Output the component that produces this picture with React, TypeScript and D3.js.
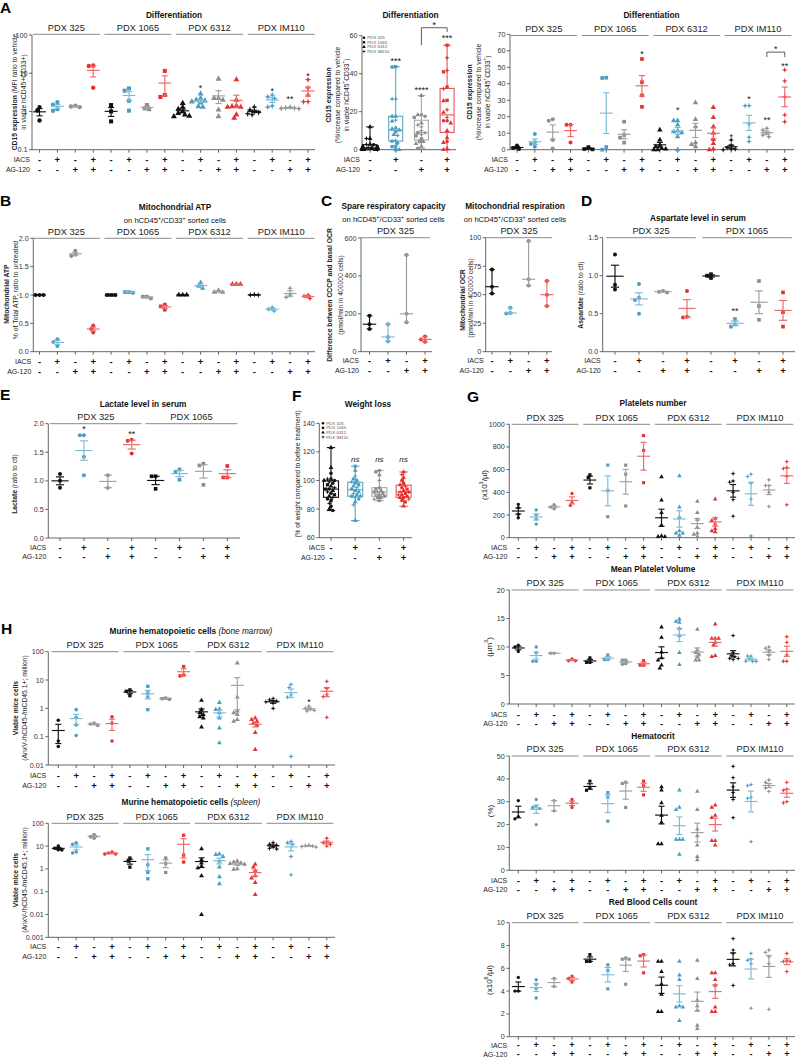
import React from "react";
import * as d3 from "d3";

// ---------------- categories ----------------
const pdxModels = ["PDX 325", "PDX 1065", "PDX 6312", "PDX IM110"];
const iacsRow = ["-", "+", "-", "+"];
const ag120Row = ["-", "-", "+", "+"];
const rowLabels = ["IACS", "AG-120"];

// ---------------- data (16 groups = 4 PDX x 4 treatments) ----------------
const cd15Mfi: number[][] = [
  [1.3, 1.06, 0.58], [1.76, 1.5, 1.15, 1.04], [1.3, 1.35, 1.42], [15.9, 15.5, 4.2],
  [1.47, 1.0, 0.55], [4.0, 3.5, 1.9, 1.05], [1.47, 1.2, 1.15], [11.5, 2.7, 2.4],
  [1.65, 1.3, 1.15, 1.0, 0.9, 0.82, 0.76, 0.74], [2.9, 2.2, 2.0, 1.9, 1.8, 1.7, 1.35, 1.3],
  [7.1, 2.2, 2.2, 2.0, 1.1, 0.74], [6.8, 2.0, 1.4, 1.35, 1.3, 1.3, 0.82, 0.67],
  [1.3, 1.1, 1.0, 0.94, 0.87, 0.82], [2.7, 2.4, 2.2, 1.4, 1.3], [1.3, 1.25, 1.22, 1.2, 1.18], [6.8, 4.1, 2.7, 1.8, 1.8],
];
const cd15Pct: number[][] = [
  [2.6, 1.0, 0.5], [9.5, 4.5, 3.4, 1.8], [18.4, 17.6, 5.9, 0.8], [15.2, 15.2, 4.3],
  [1.6, 0.4, 0.2], [43.7, 43.5, 1.6, 0], [17, 8.9, 7.3, 4.3], [55, 41, 33, 26],
  [12, 5.9, 2.8, 1.8, 0.8, 0.4, 0, 0], [17.6, 17.6, 15, 11.5, 11, 10.3, 7.9, 0],
  [28.5, 18.4, 14, 4.3, 3.2, 1.8], [25.7, 19.6, 14, 10, 6.3, 3.8, 0.4, 0],
  [5.9, 2.8, 1.2, 0.5, 0.4, 0], [26.7, 26.7, 15.6, 7.5, 4.9], [13, 12, 10, 8.9, 7.9], [48.4, 41.7, 32, 21, 17],
];
const mitoAtp: number[][] = [
  [1.0, 1.0, 1.0], [0.22, 0.17, 0.1], [1.78, 1.71, 1.69], [0.46, 0.4, 0.34],
  [1.0, 1.0, 1.0], [1.05, 1.05, 1.04], [0.97, 0.97, 0.94], [0.83, 0.8, 0.74],
  [1.0, 1.0, 1.0], [1.22, 1.16, 1.12], [1.08, 1.05, 1.05], [1.19, 1.19, 1.19],
  [1.01, 1.0, 1.0], [0.78, 0.75, 0.72], [1.12, 1.0, 0.96], [1.0, 0.98, 0.94],
];
const spareCapacity: number[][] = [[190, 145, 120], [145, 78, 55], [510, 200, 155], [80, 65, 52]];
const mitoOcr: number[][] = [[72, 57, 51], [38.5, 34, 33.5], [97, 63.5, 58], [62, 50, 40]];
const aspartate: number[][] = [
  [1.28, 0.88, 0.82], [0.89, 0.71, 0.68, 0.5], [0.78, 0.79, 0.8], [0.8, 0.46, 0.45],
  [1.02, 1.0, 0.97], [0.43, 0.36, 0.33], [0.93, 0.6, 0.42], [0.78, 0.52, 0.33],
];
const lactate: number[][] = [
  [1.12, 1.0, 0.88], [1.8, 1.8, 1.42, 1.1], [1.1, 0.88], [1.72, 1.7, 1.48],
  [1.08, 1.08, 0.86], [1.2, 1.16, 1.02], [1.3, 1.27, 0.93], [1.26, 1.06, 1.06],
];
// [pdx model index, % weight]
const weightVehicle: [number, number][] = [[2, 123], [2, 109], [0, 105], [1, 101], [3, 101], [0, 100], [2, 100], [3, 99], [0, 98], [1, 97], [2, 96], [3, 95], [0, 94], [1, 94], [2, 93], [3, 92], [0, 91], [1, 90], [2, 89], [3, 88], [0, 87], [1, 86], [3, 84], [0, 82], [2, 80], [0, 79]];
const weightIacs: [number, number][] = [[1, 110], [2, 107], [3, 103], [0, 101], [2, 100], [3, 99], [0, 98], [1, 97], [2, 96], [3, 95], [0, 94], [1, 93], [2, 92], [3, 91], [0, 90], [1, 89], [2, 89], [3, 88], [0, 87], [2, 85], [3, 83], [2, 72]];
const weightAg120: [number, number][] = [[0, 107], [1, 106], [2, 104], [3, 100], [0, 95], [1, 94], [2, 93], [3, 92], [0, 92], [1, 91], [2, 90], [3, 90], [0, 89], [1, 88], [2, 88], [3, 87], [2, 86]];
const weightCombo: [number, number][] = [[2, 106], [3, 104], [2, 102], [0, 100], [1, 98], [2, 97], [3, 96], [0, 95], [1, 94], [2, 93], [3, 92], [0, 92], [1, 91], [2, 90], [3, 90], [0, 89], [1, 88], [2, 88], [3, 87], [0, 86], [1, 85], [2, 82]];
const platelets: number[][] = [
  [294, 265, 206, 176], [245, 200, 165, 120], [290, 270, 255], [390, 310, 285],
  [555, 530, 440], [640, 415, 185], [640, 560, 280], [900, 770, 485],
  [535, 330, 220, 110, 15, 10, 10], [545, 270, 180, 60, 40, 40, 20], [320, 220, 160, 90, 40, 30, 10], [340, 170, 150, 120, 80, 60, 50],
  [565, 500, 490, 400, 335, 190], [560, 540, 480, 340, 15], [510, 460, 460, 400, 275], [670, 620, 610, 540, 290],
];
const plateletVolume: number[][] = [
  [10.3, 10.0, 9.2], [10.0, 9.0, 7.5, 7.5], [8.9, 8.9], [7.9, 7.6, 7.6],
  [8.1, 7.3, 7.3], [8.6, 7.8, 7.8], [7.7, 7.7, 7.1, 7.0], [7.6, 6.8, 6.8],
  [13.5, 11.7, 9.1, 8.1, 7.7, 6.8, 6.3], [14.9, 14.5, 14.3, 13.2, 12.0, 9.0, 6.9], [13.1, 9.5, 9.0, 8.7, 8.2, 7.7, 7.7], [14.0, 11.5, 11.5, 11.5, 10.8, 10.3, 8.5, 8.3],
  [12.0, 9.0, 8.5, 8.3, 8.0, 8.0, 7.8], [8.4, 8.4, 7.9, 7.5, 7.5, 7.5], [10.0, 9.8, 9.3, 8.5, 7.8], [11.8, 10.8, 8.6, 7.5, 7.5],
];
const hematocrit: number[][] = [
  [30.5, 23.5, 22.5], [31, 28, 27.5, 27, 20], [30.5, 26], [31, 29.5, 27.5],
  [39, 36, 35], [34, 32, 21.5], [38.5, 38, 27.5], [39, 37, 33],
  [36.5, 35, 29.5, 24, 21, 11.5, 11.5], [35, 27.5, 26.5, 13.5, 13.5, 13.5, 7], [34.5, 26.5, 18, 15, 11, 6, 4.5], [28.5, 27.5, 24, 23, 13, 13, 11],
  [45.5, 40.5, 36.5, 34, 31, 23], [37.5, 37, 32, 31.5, 12.5], [39.5, 38.5, 37, 36, 34.5], [38.5, 35.5, 35, 30, 29.5],
];
const redBloodCells: number[][] = [
  [5.2, 4.0, 4.0], [5.0, 4.6, 4.2, 3.4], [5.1, 4.4], [5.3, 5.1, 4.8],
  [7.2, 6.6, 6.6], [6.3, 5.8, 4.2], [6.9, 6.8, 6.8, 4.6], [7.2, 7.1, 5.6],
  [6.6, 6.6, 5.7, 4.6, 3.7, 2.2, 2.2], [6.6, 5.4, 5.0, 2.7, 2.6, 2.6, 1.4], [6.7, 5.1, 3.2, 2.7, 2.3, 1.0, 0.7], [5.6, 5.6, 5.0, 4.5, 2.6, 2.2, 2.2],
  [8.6, 7.6, 7.3, 6.4, 6.3, 4.5], [7.3, 6.8, 6.7, 6.4, 2.5], [7.6, 7.4, 7.0, 6.4, 2.4], [7.3, 6.7, 6.6, 6.6, 5.7],
];
const boneMarrow: number[][] = [
  [0.38, 0.07, 0.045], [0.9, 0.48, 0.26, 0.11], [0.3, 0.28, 0.25], [0.5, 0.3, 0.07],
  [4.5, 4.0, 2.8], [6.0, 3.5, 2.5, 0.9], [2.3, 2.2, 2.1], [30, 15, 14],
  [1.9, 0.9, 0.7, 0.6, 0.5, 0.45, 0.22], [1.6, 0.95, 0.9, 0.7, 0.45, 0.2, 0.06], [40, 2.5, 0.8, 0.7, 0.6, 0.4, 0.35], [0.45, 0.4, 0.35, 0.3, 0.25, 0.14, 0.035],
  [2.2, 2.0, 1.8, 1.7, 1.5, 1.0], [7, 5.5, 3, 2.5, 0.02], [1.2, 1.0, 0.95, 0.85, 0.8], [9, 5, 3, 2.6, 0.48],
];
const spleen: number[][] = [
  [10, 8, 7, 6.8], [14, 12, 5.5, 5], [32, 26, 22], [5.5, 5, 4.5, 4.5],
  [3, 2.2, 1.2], [7.6, 1.5, 0.7, 0.37], [3, 1.7, 0.7], [30, 4, 2],
  [7.5, 2.5, 1.8, 1.3, 1.1, 0.5, 0.01], [4.5, 4.2, 3.5, 2.2, 1.2, 0.45, 0.22], [2.2, 2.0, 1.8, 1.7, 1.6, 1.0, 0.95], [1.6, 1.2, 0.8, 0.5, 0.4, 0.25, 0.075],
  [14, 12, 11, 9, 8, 7.5], [16, 14, 12, 3.5, 0.55], [11, 10.5, 10, 9.5, 9], [22, 15, 14, 12, 10],
];

// pooled per treatment (used for the box plot in A)
const cd15Pooled: [number, number][][] = [0, 1, 2, 3].map((c) =>
  [0, 1, 2, 3].flatMap((m) => cd15Pct[m * 4 + c].map((v) => [m, v] as [number, number]))
);
const weightGroups = [weightVehicle, weightIacs, weightAg120, weightCombo];

// ---------------- style ----------------
const FONT = "'Liberation Sans', Arial, Helvetica, sans-serif";
const AXIS = "#555";
const GLINE = "#8a8a8a";
const markColors = ["#111111", "#4a9cc2", "#8c8c8c", "#e5312f"];
const barColors = ["#111111", "#7cbbd8", "#a0a0a0", "#ee6767"];
const boxColors = ["#111111", "#5aa7c8", "#a8a8a8", "#e8555a"];

type Part = { t: string; b?: boolean; i?: boolean; sup?: boolean };

function markerPath(model: number, d: number): string {
  if (model === 0) return d3.symbol(d3.symbolCircle, (Math.PI * d * d) / 4)() as string;
  if (model === 1) return d3.symbol(d3.symbolSquare, d * d * 0.85)() as string;
  if (model === 2) return d3.symbol(d3.symbolTriangle, d * d * 0.8)() as string;
  const r = d * 0.74, q = r * 0.36;
  const pts: string[] = [];
  for (let k = 0; k < 8; k++) {
    const a = -Math.PI / 2 + (k * Math.PI) / 4;
    const rr = k % 2 === 0 ? r : q;
    pts.push((rr * Math.cos(a)).toFixed(2) + "," + (rr * Math.sin(a)).toFixed(2));
  }
  return "M" + pts.join("L") + "Z";
}

function swarm(ys: number[], d: number): number[] {
  const order = ys.map((_, i) => i).sort((a, b) => ys[a] - ys[b]);
  const placed: [number, number][] = [];
  const dx = new Array(ys.length).fill(0);
  const s = d * 0.5;
  for (const i of order) {
    const y = ys[i];
    for (let k = 0; k < 80; k++) {
      const off = k === 0 ? 0 : (k % 2 === 1 ? -1 : 1) * Math.ceil(k / 2) * s;
      if (placed.every(([px, py]) => (px - off) ** 2 + (py - y) ** 2 >= d * d * 0.8)) {
        dx[i] = off;
        placed.push([off, y]);
        break;
      }
    }
  }
  return dx;
}

function Parts({ parts, size }: { parts: Part[]; size: number }) {
  return (
    <>
      {parts.map((p, k) => (
        <tspan
          key={k}
          fontWeight={p.b ? "bold" : "normal"}
          fontStyle={p.i ? "italic" : "normal"}
          fontSize={p.sup ? size * 0.68 : size}
          baselineShift={p.sup ? "super" : undefined}
        >
          {p.t}
        </tspan>
      ))}
    </>
  );
}

function Txt({ x, y, size, anchor = "middle", weight = "normal", fstyle = "normal", fill = "#222", base = "auto", children }: any) {
  return (
    <text x={x} y={y} fontSize={size} textAnchor={anchor} fontWeight={weight} fontStyle={fstyle} fill={fill} fontFamily={FONT} dominantBaseline={base}>
      {children}
    </text>
  );
}

function YLab({ x, cy, parts, size = 7 }: { x: number; cy: number; parts: Part[]; size?: number }) {
  return (
    <text transform={`translate(${x},${cy}) rotate(-90)`} textAnchor="middle" dominantBaseline="central" fontSize={size} fontFamily={FONT} fill="#222">
      <Parts parts={parts} size={size} />
    </text>
  );
}

function Title({ x, y, parts, size = 8.3 }: { x: number; y: number; parts: Part[]; size?: number }) {
  return (
    <text x={x} y={y} textAnchor="middle" fontSize={size} fontFamily={FONT} fill="#111">
      <Parts parts={parts} size={size} />
    </text>
  );
}

type Ann = { g: number; v: number; t: string };
type Brk = { g1: number; g2: number; v: number; v1: number; v2: number; t: string };

interface DotCfg {
  data: number[][];
  models?: number[];
  perModel?: number;
  x0: number; step: number; axisX: number; axisEnd: number;
  log?: boolean; domain: [number, number]; yBottom: number; yTop: number;
  ticks: number[]; fmt: (v: number) => string;
  names: string[]; lineY: number; spanFrac?: number; spans?: [number, number][];
  rowY: [number, number]; rowSize?: number;
  summary?: "sem" | "range";
  dot: number;
  anns?: Ann[];
  brackets?: Brk[];
}

function Axes({ axisX, axisEnd, yTop, yBottom, ticks, fmt, Y, xs }: any) {
  return (
    <g>
      <line x1={axisX} x2={axisX} y1={yTop} y2={yBottom} stroke={AXIS} strokeWidth={0.9} />
      {ticks.map((t: number, k: number) => (
        <g key={"t" + k}>
          <line x1={axisX - 3} x2={axisX} y1={Y(t)} y2={Y(t)} stroke={AXIS} strokeWidth={0.9} />
          <Txt x={axisX - 4.5} y={Y(t)} size={7.2} anchor="end" base="central" fill="#333">{fmt(t)}</Txt>
        </g>
      ))}
      <line x1={axisX} x2={axisEnd} y1={yBottom} y2={yBottom} stroke={AXIS} strokeWidth={0.9} />
      {xs.map((xx: number, i: number) => (
        <line key={"xt" + i} x1={xx} x2={xx} y1={yBottom} y2={yBottom + 3} stroke={AXIS} strokeWidth={0.9} />
      ))}
    </g>
  );
}

function Rows({ labelX, rowY, xs, size = 9.5 }: { labelX: number; rowY: [number, number]; xs: number[]; size?: number }) {
  return (
    <g>
      <Txt x={labelX} y={rowY[0]} size={7} anchor="end" base="central">{rowLabels[0]}</Txt>
      <Txt x={labelX} y={rowY[1]} size={7} anchor="end" base="central">{rowLabels[1]}</Txt>
      {xs.map((xx, i) => (
        <g key={"r" + i}>
          <Txt x={xx} y={rowY[0]} size={size} weight="bold" base="central" fill="#111">{iacsRow[i % 4]}</Txt>
          <Txt x={xx} y={rowY[1]} size={size} weight="bold" base="central" fill="#111">{ag120Row[i % 4]}</Txt>
        </g>
      ))}
    </g>
  );
}

function Annots({ anns, brackets, X, Y }: { anns?: Ann[]; brackets?: Brk[]; X: (i: number) => number; Y: (v: number) => number }) {
  return (
    <g>
      {(anns || []).map((a, k) => (
        <Txt key={"a" + k} x={X(a.g)} y={Y(a.v) + 2.2} size={9} base="central" fill="#111">{a.t}</Txt>
      ))}
      {(brackets || []).map((b, k) => (
        <g key={"b" + k}>
          <path d={`M${X(b.g1)},${Y(b.v1)}V${Y(b.v)}H${X(b.g2)}V${Y(b.v2)}`} fill="none" stroke="#333" strokeWidth={0.8} />
          <Txt x={(X(b.g1) + X(b.g2)) / 2} y={Y(b.v) - 3} size={9} base="central" fill="#111">{b.t}</Txt>
        </g>
      ))}
    </g>
  );
}

function DotPanel(p: DotCfg) {
  const n = p.data.length;
  const per = p.perModel ?? 4;
  const x = d3.scalePoint<number>().domain(d3.range(n)).range([p.x0, p.x0 + p.step * (n - 1)]);
  const X = (i: number) => x(i) as number;
  const ys: any = (p.log ? d3.scaleLog() : d3.scaleLinear()).domain(p.domain).range([p.yBottom, p.yTop]);
  const Y = (v: number) => ys(p.log ? Math.max(v, p.domain[0]) : v) as number;
  const model = (i: number) => (p.models ? p.models[i] : Math.floor(i / per));
  const half = p.step * 0.36, cap = p.step * 0.17;
  const frac = p.spanFrac ?? 0.37;
  const xs = d3.range(n).map(X);
  return (
    <g>
      <Axes axisX={p.axisX} axisEnd={p.axisEnd} yTop={p.yTop} yBottom={p.yBottom} ticks={p.ticks} fmt={p.fmt} Y={Y} xs={xs} />
      {p.names.map((nm, m) => {
        const [a, b] = p.spans ? p.spans[m] : [X(m * per) - frac * p.step, X(m * per + per - 1) + frac * p.step];
        return (
          <g key={"gl" + m}>
            <line x1={a} x2={b} y1={p.lineY} y2={p.lineY} stroke={GLINE} strokeWidth={1} />
            <Txt x={(a + b) / 2} y={p.lineY - 3.6} size={9.3} fill="#222">{nm}</Txt>
          </g>
        );
      })}
      <Rows labelX={p.axisX - 2} rowY={p.rowY} xs={xs} size={p.rowSize} />
      {p.data.map((vals, i) => {
        const yy = vals.map(Y);
        const dx = swarm(yy, p.dot);
        const path = markerPath(model(i), p.dot);
        return (
          <g key={"pts" + i}>
            {vals.map((_, k) => (
              <path key={k} d={path} transform={`translate(${X(i) + dx[k]},${yy[k]})`} fill={markColors[i % 4]} />
            ))}
          </g>
        );
      })}
      {p.data.map((vals, i) => {
        const c = barColors[i % 4];
        const xi = X(i);
        let mid: number, lo: number, hi: number;
        if (p.summary === "range") {
          mid = d3.median(vals) as number;
          lo = d3.min(vals) as number;
          hi = d3.max(vals) as number;
        } else {
          mid = d3.mean(vals) as number;
          const sem = vals.length > 1 ? (d3.deviation(vals) as number) / Math.sqrt(vals.length) : 0;
          lo = mid - sem;
          hi = mid + sem;
        }
        const c2 = p.summary === "range" ? cap * 0.9 : cap;
        return (
          <g key={"sum" + i} stroke={c} strokeWidth={1.15}>
            <line x1={xi - half} x2={xi + half} y1={Y(mid)} y2={Y(mid)} />
            <line x1={xi} x2={xi} y1={Y(lo)} y2={Y(hi)} />
            <line x1={xi - c2} x2={xi + c2} y1={Y(lo)} y2={Y(lo)} />
            <line x1={xi - c2} x2={xi + c2} y1={Y(hi)} y2={Y(hi)} />
          </g>
        );
      })}
      <Annots anns={p.anns} brackets={p.brackets} X={X} Y={Y} />
    </g>
  );
}

interface BoxCfg {
  groups: [number, number][][];
  x0: number; step: number; axisX: number; axisEnd: number;
  domain: [number, number]; yBottom: number; yTop: number;
  ticks: number[]; fmt: (v: number) => string;
  rowY: [number, number]; rowLabelX: number; boxW: number; dot: number;
  legend: [number, number];
  anns?: Ann[]; brackets?: Brk[];
}

function BoxPanel(p: BoxCfg) {
  const n = p.groups.length;
  const x = d3.scalePoint<number>().domain(d3.range(n)).range([p.x0, p.x0 + p.step * (n - 1)]);
  const X = (i: number) => x(i) as number;
  const y = d3.scaleLinear().domain(p.domain).range([p.yBottom, p.yTop]);
  const Y = (v: number) => y(v) as number;
  const xs = d3.range(n).map(X);
  return (
    <g>
      <Axes axisX={p.axisX} axisEnd={p.axisEnd} yTop={p.yTop} yBottom={p.yBottom} ticks={p.ticks} fmt={p.fmt} Y={Y} xs={xs} />
      <Rows labelX={p.rowLabelX} rowY={p.rowY} xs={xs} />
      {pdxModels.map((nm, m) => (
        <g key={"lg" + m}>
          <path d={markerPath(m, 2.6)} transform={`translate(${p.legend[0]},${p.legend[1] + m * 4.6})`} fill="#111" />
          <Txt x={p.legend[0] + 3.2} y={p.legend[1] + m * 4.6} size={4.4} anchor="start" base="central" fill="#555">{nm}</Txt>
        </g>
      ))}
      {p.groups.map((g, i) => {
        const vals = g.map((d) => d[1]);
        const sorted = [...vals].sort((a, b) => a - b);
        const q1 = d3.quantile(sorted, 0.25) as number;
        const med = d3.quantile(sorted, 0.5) as number;
        const q3 = d3.quantile(sorted, 0.75) as number;
        const mn = sorted[0], mx = sorted[sorted.length - 1];
        const c = boxColors[i];
        const xi = X(i);
        const w = p.boxW;
        const yy = vals.map(Y);
        const dx = swarm(yy, p.dot).map((v) => Math.max(-w * 0.55, Math.min(w * 0.55, v)));
        return (
          <g key={"bx" + i}>
            <g stroke={c} strokeWidth={1.1} fill="none">
              <rect x={xi - w / 2} y={Y(q3)} width={w} height={Y(q1) - Y(q3)} />
              <line x1={xi - w / 2} x2={xi + w / 2} y1={Y(med)} y2={Y(med)} />
              <line x1={xi} x2={xi} y1={Y(q3)} y2={Y(mx)} />
              <line x1={xi} x2={xi} y1={Y(q1)} y2={Y(mn)} />
              <line x1={xi - w * 0.28} x2={xi + w * 0.28} y1={Y(mx)} y2={Y(mx)} />
              <line x1={xi - w * 0.28} x2={xi + w * 0.28} y1={Y(mn)} y2={Y(mn)} />
            </g>
            {g.map((d, k) => (
              <path key={k} d={markerPath(d[0], p.dot)} transform={`translate(${xi + dx[k]},${yy[k]})`} fill={markColors[i]} />
            ))}
          </g>
        );
      })}
      <Annots anns={p.anns} brackets={p.brackets} X={X} Y={Y} />
    </g>
  );
}

const fG = (v: number) => d3.format("~g")(v);
const f1 = (v: number) => d3.format(".1f")(v);
const fD = (v: number) => d3.format("d")(v);

const onSorted: Part[] = [{ t: "on hCD45" }, { t: "+", sup: true }, { t: "/CD33" }, { t: "+", sup: true }, { t: " sorted cells" }];

function Letter({ x, y, t }: { x: number; y: number; t: string }) {
  return <Txt x={x} y={y} size={15.5} anchor="start" weight="bold" fill="#000">{t}</Txt>;
}

export default function App() {
  return (
    <svg width={797} height={1059} style={{ position: "absolute", left: 0, top: 0, background: "#fff" }} fontFamily={FONT}>
      <rect width={797} height={1059} fill="#fff" />
      {/* Panel letters */}
      <Letter x={0} y={12.5} t="A" />
      <Letter x={0} y={206} t="B" />
      <Letter x={321} y={206} t="C" />
      <Letter x={581} y={206} t="D" />
      <Letter x={0} y={400} t="E" />
      <Letter x={292} y={401} t="F" />
      <Letter x={467} y={402} t="G" />
      <Letter x={1} y={634} t="H" />

      {/* A1 */}
      <Title x={174} y={18} parts={[{ t: "Differentiation", b: true }]} />
      <YLab x={13.5} cy={92} parts={[{ t: "CD15 expression", b: true }, { t: " (MFI ratio to vehicle" }]} size={6.8} />
      <YLab x={22.5} cy={92} parts={[{ t: "in viable hCD45+CD33+)" }]} size={6.8} />
      <DotPanel data={cd15Mfi} x0={39.5} step={17.9} axisX={32} axisEnd={315} log domain={[0.1, 100]} yBottom={149.7} yTop={35}
        ticks={[0.1, 1, 10, 100]} fmt={fG} names={pdxModels} lineY={34.3} rowY={[159, 169]} dot={4.4}
        anns={[{ g: 9, v: 4.74, t: "*" }, { g: 13, v: 3.9, t: "*" }, { g: 14, v: 2.48, t: "**" }, { g: 15, v: 9.8, t: "*" }]} />

      {/* A2 */}
      <Title x={410.5} y={18} parts={[{ t: "Differentiation", b: true }]} />
      <YLab x={328} cy={95} parts={[{ t: "CD15 expression", b: true }]} size={6.8} />
      <YLab x={337} cy={95} parts={[{ t: "(%increase compared to vehicle" }]} size={6.8} />
      <YLab x={346} cy={95} parts={[{ t: "in viable hCD45" }, { t: "+", sup: true }, { t: "CD33" }, { t: "+", sup: true }, { t: ")" }]} size={6.8} />
      <BoxPanel groups={cd15Pooled} x0={370} step={25.7} axisX={362} axisEnd={456} domain={[0, 60]} yBottom={149.7} yTop={35.7}
        ticks={[0, 20, 40, 60]} fmt={fD} rowY={[159, 169]} rowLabelX={360} boxW={14} dot={3.6} legend={[364, 37.7]}
        anns={[{ g: 1, v: 47.7, t: "***" }, { g: 2, v: 32.5, t: "****" }, { g: 3, v: 59.8, t: "***" }]}
        brackets={[{ g1: 2, g2: 3, v: 64.2, v1: 55, v2: 62, t: "*" }]} />

      {/* A3 */}
      <Title x={651.5} y={18} parts={[{ t: "Differentiation", b: true }]} />
      <YLab x={468.5} cy={92} parts={[{ t: "CD15 expression", b: true }]} size={6.8} />
      <YLab x={477.5} cy={92} parts={[{ t: "(%increase compared to vehicle" }]} size={6.8} />
      <YLab x={486.5} cy={92} parts={[{ t: "in viable hCD45" }, { t: "+", sup: true }, { t: "CD33" }, { t: "+", sup: true }, { t: ")" }]} size={6.8} />
      <DotPanel data={cd15Pct} x0={517} step={17.85} axisX={510} axisEnd={794} domain={[0, 70]} yBottom={149.7} yTop={34.3}
        ticks={[0, 10, 20, 30, 40, 50, 60, 70]} fmt={fD} names={pdxModels} lineY={35.5} rowY={[159, 169]} dot={4}
        anns={[{ g: 7, v: 59.1, t: "*" }, { g: 9, v: 25.7, t: "*" }, { g: 12, v: 8.9, t: "*" }, { g: 13, v: 32.1, t: "*" }, { g: 14, v: 19.6, t: "**" }, { g: 15, v: 52.4, t: "**" }]}
        brackets={[{ g1: 14, g2: 15, v: 59.2, v1: 56.2, v2: 56.2, t: "*" }]} />

      {/* B */}
      <Title x={175} y={210} parts={[{ t: "Mitochondrial ATP", b: true }]} />
      <Title x={175} y={223} parts={onSorted} size={7.6} />
      <YLab x={5.5} cy={294} parts={[{ t: "Mitochondrial ATP", b: true }]} size={6.8} />
      <YLab x={15} cy={290} parts={[{ t: "% of Total ATP, ratio to untreated" }]} size={6.8} />
      <DotPanel data={mitoAtp} x0={39.5} step={17.9} axisX={33.3} axisEnd={315} domain={[0, 2]} yBottom={351.7} yTop={238.3}
        ticks={[0, 0.5, 1, 1.5, 2]} fmt={f1} names={pdxModels} lineY={238.3} rowY={[361.7, 371.7]} dot={4} />

      {/* C1 */}
      <Title x={393.5} y={208.5} parts={[{ t: "Spare respiratory capacity", b: true }]} />
      <Title x={393.5} y={222} parts={onSorted} size={7.6} />
      <YLab x={328.5} cy={295} parts={[{ t: "Difference between CCCP and basal OCR", b: true }]} size={6.8} />
      <YLab x={339.5} cy={295} parts={[{ t: "(pmol/min in 400000 cells)" }]} size={6.8} />
      <DotPanel data={spareCapacity} models={[0, 0, 0, 0]} x0={369.5} step={18.5} axisX={361} axisEnd={432} domain={[0, 600]} yBottom={351.7} yTop={238}
        ticks={[0, 200, 400, 600]} fmt={fD} names={["PDX 325"]} spans={[[361, 430]]} lineY={237.7} rowY={[360.7, 370]} dot={4} summary="range" />

      {/* C2 */}
      <Title x={515} y={208.5} parts={[{ t: "Mitochondrial respiration", b: true }]} />
      <Title x={515} y={222} parts={onSorted} size={7.6} />
      <YLab x={461.7} cy={300} parts={[{ t: "Mitochondrial OCR", b: true }]} size={6.8} />
      <YLab x={470} cy={298} parts={[{ t: "(pmol/min in 400000 cells)" }]} size={6.8} />
      <DotPanel data={mitoOcr} models={[0, 0, 0, 0]} x0={492} step={18.3} axisX={485.7} axisEnd={552} domain={[0, 100]} yBottom={351.7} yTop={237.7}
        ticks={[0, 25, 50, 75, 100]} fmt={fD} names={["PDX 325"]} spans={[[486, 552]]} lineY={237.7} rowY={[360.7, 370]} dot={4} summary="range" />

      {/* D */}
      <Title x={698} y={221} parts={[{ t: "Aspartate level in serum", b: true }]} />
      <YLab x={580} cy={295} parts={[{ t: "Aspartate", b: true }, { t: " (ratio to ctl)" }]} size={6.8} />
      <DotPanel data={aspartate} x0={615} step={24} axisX={602.7} axisEnd={795} domain={[0, 1.5]} yBottom={351.7} yTop={237.7}
        ticks={[0, 0.5, 1, 1.5]} fmt={f1} names={["PDX 325", "PDX 1065"]} lineY={237.7} rowY={[360.7, 370]} dot={4}
        anns={[{ g: 5, v: 0.571, t: "**" }]} />

      {/* E */}
      <Title x={143} y={407} parts={[{ t: "Lactate level in serum", b: true }]} />
      <YLab x={14} cy={484} parts={[{ t: "Lactate", b: true }, { t: " (ratio to ctl)" }]} size={6.8} />
      <DotPanel data={lactate} x0={60} step={23.9} axisX={48.3} axisEnd={240} domain={[0, 2]} yBottom={538} yTop={423.7}
        ticks={[0, 0.5, 1, 1.5, 2]} fmt={f1} names={["PDX 325", "PDX 1065"]} lineY={423.7} spanFrac={0.42} rowY={[547.7, 556.7]} dot={4}
        anns={[{ g: 1, v: 1.94, t: "*" }, { g: 3, v: 1.85, t: "**" }]} />

      {/* F */}
      <Title x={368} y={407} parts={[{ t: "Weight loss", b: true }]} />
      <YLab x={297} cy={474} parts={[{ t: "(% of weight compared to before treatment)" }]} size={6.6} />
      <BoxPanel groups={weightGroups} x0={331} step={24.2} axisX={319.3} axisEnd={412} domain={[60, 140]} yBottom={537.7} yTop={423.3}
        ticks={[60, 80, 100, 120, 140]} fmt={fD} rowY={[547.7, 557.2]} rowLabelX={325} boxW={15} dot={3.5} legend={[323, 423.3]} />
      {[1, 2, 3].map((i) => (
        <Txt key={"ns" + i} x={331 + 24.2 * i} y={459.5} size={8} fstyle="italic" base="central" fill="#222">ns</Txt>
      ))}

      {/* G */}
      <Title x={653} y={406} parts={[{ t: "Platelets number", b: true }]} />
      <YLab x={483.5} cy={485} parts={[{ t: "(x10" }, { t: "3", sup: true }, { t: "/µl)" }]} size={8} />
      <DotPanel data={platelets} x0={518.3} step={17.9} axisX={509.3} axisEnd={795} domain={[0, 1000]} yBottom={537.7} yTop={424.3}
        ticks={[0, 200, 400, 600, 800, 1000]} fmt={fD} names={pdxModels} lineY={424.3} rowY={[547.7, 556.7]} dot={3.4} />

      <Title x={653} y={572} parts={[{ t: "Mean Platelet Volume", b: true }]} />
      <YLab x={488.5} cy={647} parts={[{ t: "(µm" }, { t: "3", sup: true }, { t: ")" }]} size={8} />
      <DotPanel data={plateletVolume} x0={518.3} step={17.9} axisX={509.3} axisEnd={795} domain={[0, 20]} yBottom={704} yTop={590}
        ticks={[0, 5, 10, 15, 20]} fmt={fD} names={pdxModels} lineY={590} rowY={[714, 723.7]} dot={3.4} />

      <Title x={653} y={738.5} parts={[{ t: "Hematocrit", b: true }]} />
      <YLab x={490} cy={811} parts={[{ t: "(%)" }]} size={8} />
      <DotPanel data={hematocrit} x0={518.3} step={17.9} axisX={509.3} axisEnd={795} domain={[0, 50]} yBottom={870.3} yTop={756}
        ticks={[0, 10, 20, 30, 40, 50]} fmt={fD} names={pdxModels} lineY={756} rowY={[880, 889.7]} dot={3.4} />

      <Title x={653} y={905} parts={[{ t: "Red Blood Cells count", b: true }]} />
      <YLab x={488.5} cy={980} parts={[{ t: "(x10" }, { t: "6", sup: true }, { t: "/µl)" }]} size={8} />
      <DotPanel data={redBloodCells} x0={518.3} step={17.9} axisX={509.3} axisEnd={795} domain={[0, 10]} yBottom={1036.7} yTop={922.7}
        ticks={[0, 2, 4, 6, 8, 10]} fmt={fD} names={pdxModels} lineY={922.7} rowY={[1045.2, 1054.2]} rowSize={9} dot={3.4} />

      {/* H */}
      <Title x={191} y={634} parts={[{ t: "Murine hematopoietic cells ", b: true }, { t: "(bone marrow)", i: true }]} />
      <YLab x={14.5} cy={708} parts={[{ t: "Viable mice cells", b: true }]} size={6.8} />
      <YLab x={24} cy={708} parts={[{ t: "(AnxV-/hCD45-/mCD45.1+; million)" }]} size={6.8} />
      <DotPanel data={boneMarrow} x0={58.3} step={17.9} axisX={48.3} axisEnd={335} log domain={[0.01, 100]} yBottom={765} yTop={651.7}
        ticks={[0.01, 0.1, 1, 10, 100]} fmt={fG} names={pdxModels} lineY={651.7} rowY={[775, 785]} dot={3.6}
        anns={[{ g: 14, v: 1.97, t: "*" }]} />

      <Title x={191} y={805} parts={[{ t: "Murine hematopoietic cells ", b: true }, { t: "(spleen)", i: true }]} />
      <YLab x={14.5} cy={880} parts={[{ t: "Viable mice cells", b: true }]} size={6.8} />
      <YLab x={24} cy={880} parts={[{ t: "(AnxV-/hCD45-/mCD45.1+; million)" }]} size={6.8} />
      <DotPanel data={spleen} x0={58.3} step={17.9} axisX={48.3} axisEnd={335} log domain={[0.001, 100]} yBottom={937.3} yTop={823.3}
        ticks={[0.001, 0.01, 0.1, 1, 10, 100]} fmt={fG} names={pdxModels} lineY={823.3} rowY={[946.7, 956.7]} dot={3.6} />
    </svg>
  );
}
